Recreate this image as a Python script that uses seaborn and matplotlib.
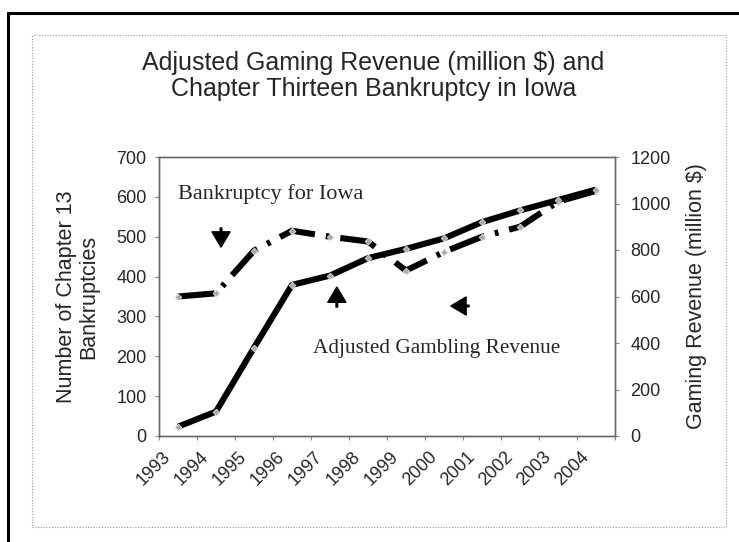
import matplotlib
matplotlib.use("Agg")
import matplotlib.pyplot as plt
import seaborn as sns
import pandas as pd
from matplotlib.lines import Line2D
from matplotlib.patches import Rectangle
from matplotlib.ticker import FixedLocator, MultipleLocator
from matplotlib.transforms import ScaledTranslation

# ---- data ----
years = ["1993", "1994", "1995", "1996", "1997", "1998",
         "1999", "2000", "2001", "2002", "2003", "2004"]
bankruptcies = [350, 358, 465, 515, 500, 488, 415, 462, 500, 525, 588, 615]
gaming_revenue = [40, 105, 380, 650, 690, 765, 805, 850, 920, 970, 1015, 1060]

title = "Adjusted Gaming Revenue (million $) and\nChapter Thirteen Bankruptcy in Iowa"
left_label = "Number of Chapter 13\nBankruptcies"
right_label = "Gaming Revenue (million $)"
note_bk = "Bankruptcy for Iowa"
note_rev = "Adjusted Gambling Revenue"

sns.set_theme(style="white")
plt.rcParams["font.family"] = ["Liberation Sans", "DejaVu Sans"]

df = pd.DataFrame({"Year": years, "Bankruptcies": bankruptcies,
                   "Revenue": gaming_revenue})

fig = plt.figure(figsize=(7.39, 5.42), dpi=100)
fig.patch.set_facecolor("white")

# page borders
fig.add_artist(Line2D([8/739, 1.0], [1-13/542, 1-13/542], color="black", lw=2.2,
                      transform=fig.transFigure))
fig.add_artist(Line2D([8/739, 8/739], [0, 1-13/542], color="black", lw=2.2,
                      transform=fig.transFigure))
fig.add_artist(Rectangle((32/739, 1-527/542), (726-32)/739, (527-35)/542,
                         fill=False, ec="#999999", lw=0.8, ls=(0, (1, 1.5)),
                         transform=fig.transFigure))

ax = fig.add_axes([159/739, 1-436/542, 456/739, 279/542])
ax2 = ax.twinx()

mk = dict(marker="D", markersize=3.4, markerfacecolor="#a8a8a8",
          markeredgecolor="#e0e0e0", markeredgewidth=0.6)

sns.lineplot(data=df, x="Year", y="Bankruptcies", ax=ax, color="black",
             lw=4.4, sort=False, **mk)
ax.lines[0].set_dashes((6.0, 1.8, 0.6, 1.8))
ax.lines[0].set_dash_capstyle("butt")

sns.lineplot(data=df, x="Year", y="Revenue", ax=ax2, color="black",
             lw=4.4, sort=False, **mk)
ax2.lines[0].set_solid_capstyle("butt")

ax.set_xlim(-0.5, len(years) - 0.5)
ax.set_ylim(0, 700)
ax2.set_ylim(0, 1200)
ax.yaxis.set_major_locator(MultipleLocator(100))
ax2.yaxis.set_major_locator(MultipleLocator(200))

ax.set_xticks(range(len(years)))
ax.xaxis.set_minor_locator(FixedLocator([i + 0.5 for i in range(-1, len(years))]))
ax.tick_params(axis="x", which="major", length=0, pad=13)
ax.tick_params(axis="x", which="minor", length=3, color="#888888", width=0.8,
               direction="out", bottom=True)
ax.tick_params(axis="y", length=3, color="#888888", width=0.8, direction="out",
               labelsize=13, pad=6, left=True)
ax2.tick_params(axis="y", length=3, color="#888888", width=0.8, direction="out",
                labelsize=13, pad=8, right=True)
ax.set_xticklabels(years, rotation=45, ha="right", va="center",
                   rotation_mode="anchor", fontsize=13)

for a in (ax, ax2):
    for s in a.spines.values():
        s.set_color("#666666")
        s.set_linewidth(1.0)
        s.set_linestyle((0, (1, 1)))

ax.set_xlabel("")
ax.set_ylabel(left_label, fontsize=15.5, linespacing=1.05)
ax.yaxis.set_label_coords(-0.131, 0.5)
ax2.set_ylabel(right_label, fontsize=15.5)
ax2.yaxis.set_label_coords(1.155, 0.5)

serif = ["Liberation Serif", "DejaVu Serif"]
ax.text(0.0417, 0.849, note_bk, transform=ax.transAxes, fontsize=16,
        family=serif, va="baseline", ha="left")
ax.text(0.338, 0.2975, note_rev, transform=ax.transAxes, fontsize=15.3,
        family=serif, va="baseline", ha="left")

arr = dict(facecolor="black", edgecolor="black", width=1.2, headwidth=13,
           headlength=11, shrink=0)
ax.annotate("", xy=(0.136, 0.677), xytext=(0.136, 0.7455),
            xycoords="axes fraction", arrowprops=arr)
ax.annotate("", xy=(0.390, 0.534), xytext=(0.390, 0.462),
            xycoords="axes fraction", arrowprops=arr)
ax.annotate("", xy=(0.640, 0.466), xytext=(0.680, 0.466),
            xycoords="axes fraction", arrowprops=arr)

fig.text(0.505, 1 - 76/542, title, ha="center", va="center", fontsize=18,
         linespacing=1.12)

# shift rotated year labels left, Excel style (after all tick_params calls)
shift = ScaledTranslation(-10/100, 0, fig.dpi_scale_trans)
for tick in ax.xaxis.get_major_ticks():
    tick.label1.set_transform(tick.label1.get_transform() + shift)

fig.savefig("out.png", dpi=100, facecolor="white")
